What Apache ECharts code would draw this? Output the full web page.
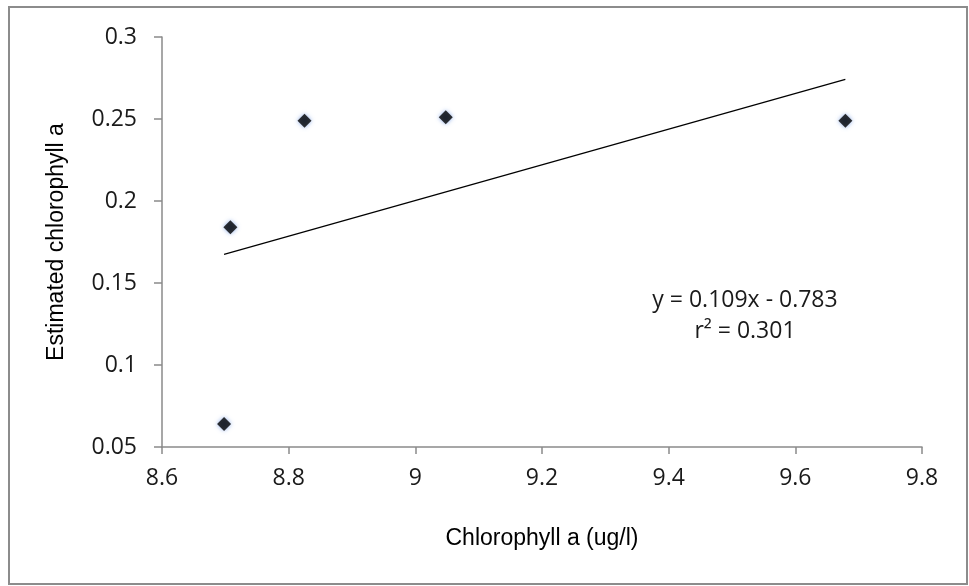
<!DOCTYPE html>
<html>
<head>
<meta charset="utf-8">
<script src="https://cdn.jsdelivr.net/npm/echarts@6/dist/echarts.min.js"></script>
<style>
html,body{margin:0;padding:0;background:#fff;}
#chart{width:969px;height:586px;}
</style>
</head>
<body>
<div id="chart"></div>
<script>
// Data
var chlA = [8.698, 8.708, 8.825, 9.048, 9.679];
var estChl = [0.064, 0.184, 0.249, 0.251, 0.249];
var xTitle = 'Chlorophyll a (ug/l)';
var yTitle = 'Estimated chlorophyll a';
var eqLines = ['y = 0.109x - 0.783', 'r\u00B2 = 0.301'];

var points = chlA.map(function (x, i) { return [x, estChl[i]]; });

// least-squares trendline across the data range
var n = chlA.length, mx = 0, my = 0;
for (var i = 0; i < n; i++) { mx += chlA[i]; my += estChl[i]; }
mx /= n; my /= n;
var sxy = 0, sxx = 0;
for (var i = 0; i < n; i++) { sxy += (chlA[i] - mx) * (estChl[i] - my); sxx += (chlA[i] - mx) * (chlA[i] - mx); }
var slope = sxy / sxx, icpt = my - slope * mx;
var xMin = Math.min.apply(null, chlA), xMax = Math.max.apply(null, chlA);
var trend = [[xMin, slope * xMin + icpt], [xMax, slope * xMax + icpt]];

var chart = echarts.init(document.getElementById('chart'));
var axisLineColor = '#8a8a8a';
var tickFont = { fontFamily: 'Open Sans', fontSize: 23, color: '#1a1a1a' };
chart.setOption({
  animation: false,
  backgroundColor: '#fff',
  grid: { left: 162, right: 47, top: 37, bottom: 139, containLabel: false },
  xAxis: {
    type: 'value', min: 8.6, max: 9.8, interval: 0.2,
    axisLine: { show: true, lineStyle: { color: axisLineColor, width: 1.5 } },
    axisTick: { show: true, length: 7, lineStyle: { color: axisLineColor, width: 1.5 } },
    splitLine: { show: false },
    axisLabel: Object.assign({ margin: 20 }, tickFont),
    name: xTitle, nameLocation: 'middle', nameGap: 80,
    nameTextStyle: { fontFamily: 'Liberation Sans', fontSize: 23, color: '#000' }
  },
  yAxis: {
    type: 'value', min: 0.05, max: 0.3, interval: 0.05,
    axisLine: { show: true, lineStyle: { color: axisLineColor, width: 1.5 } },
    axisTick: { show: true, length: 8, lineStyle: { color: axisLineColor, width: 1.5 } },
    splitLine: { show: false },
    axisLabel: Object.assign({ margin: 25 }, tickFont),
    name: yTitle, nameLocation: 'middle', nameGap: 94, nameRotate: 90,
    nameTextStyle: { fontFamily: 'Liberation Sans', fontSize: 23, color: '#000' }
  },
  series: [
    {
      type: 'line', data: trend, showSymbol: false, symbol: 'none',
      lineStyle: { color: '#000', width: 1.2 }, silent: true, z: 2
    },
    {
      type: 'scatter', data: points, symbol: 'diamond', symbolSize: 14,
      itemStyle: { color: '#000', shadowBlur: 4, shadowColor: 'rgba(110,150,225,0.95)' },
      z: 3
    }
  ],
  graphic: [
    { type: 'rect', shape: { x: 9, y: 7, width: 958, height: 577 },
      style: { fill: 'none', stroke: '#8c8c8c', lineWidth: 2 }, silent: true },
    { type: 'text', x: 745, y: 300,
      style: { text: eqLines[0], font: '23px "Open Sans"', fill: '#1a1a1a', textAlign: 'center', textVerticalAlign: 'middle' } },
    { type: 'text', x: 745, y: 331,
      style: { text: eqLines[1], font: '23px "Open Sans"', fill: '#1a1a1a', textAlign: 'center', textVerticalAlign: 'middle' } }
  ]
});
</script>
</body>
</html>
